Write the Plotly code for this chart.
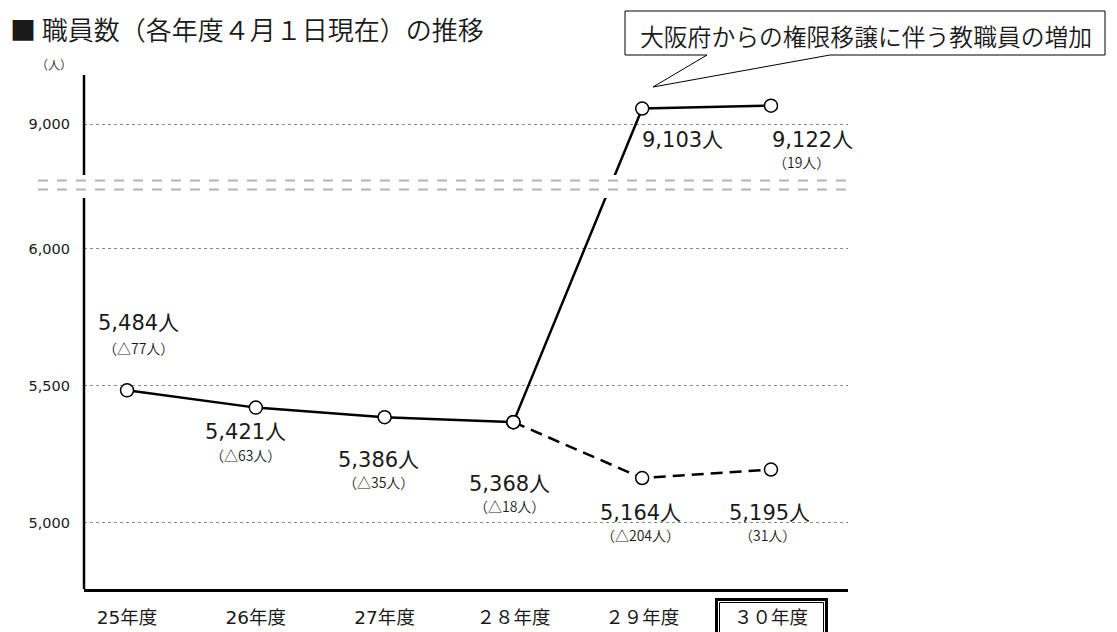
import plotly.graph_objects as go

# ---- data ----
years = ["25年度", "26年度", "27年度", "２８年度", "２９年度", "３０年度"]
staff_actual = [5484, 5421, 5386, 5368]          # 25-28年度
staff_with_transfer = [5368, 9103, 9122]          # 28-30年度 (incl. transfer)
staff_without_transfer = [5368, 5164, 5195]       # 28-30年度 (excl. transfer)
main_labels = ["5,484人", "5,421人", "5,386人", "5,368人", "5,164人", "5,195人"]
sub_labels = ["（△77人）", "（△63人）", "（△35人）", "（△18人）", "（△204人）", "（31人）"]
upper_main_labels = ["9,103人", "9,122人"]
upper_sub_labels = ["", "（19人）"]
tick_values = [5000, 5500, 6000, 9000]
tick_text = ["5,000", "5,500", "6,000", "9,000"]
title_text = "■ 職員数（各年度４月１日現在）の推移"
unit_text = "（人）"
callout_text = "大阪府からの権限移譲に伴う教職員の増加"

# ---- broken-axis scale (values above the break are compressed) ----
BREAK_LOW, BREAK_HIGH = 6186, 6270
def disp(v):
    return v if v <= 6000 else 6456 + (v - 9000) * 0.55

# ideographic spaces keep full-width brackets from being trimmed at line edges
IS = "\u3000"
def pad(s):
    return IS + s + IS

OFF = 8  # page body margin
W, H = 1117 - OFF, 632 - OFF
L, R, T, B = 84, 848, 75, 589   # plot area in screen pixels
def px(x):
    return (x - L) / (R - L)
def py(y):
    return (B - y) / (B - T)

FONT = "DejaVu Sans, Noto Sans CJK JP"
CJK = "Noto Sans CJK JP"
TXT = "#1a1a1a"

fig = go.Figure()
marker = dict(size=13, color="white", line=dict(color="black", width=1.5))

fig.add_trace(go.Scatter(x=years[3:], y=[disp(v) for v in staff_without_transfer],
                         mode="lines+markers", line=dict(color="black", width=2.5, dash="12px,7px"),
                         marker=marker, hoverinfo="skip", showlegend=False))
fig.add_trace(go.Scatter(x=years[:4], y=staff_actual, mode="lines+markers",
                         line=dict(color="black", width=2.5), marker=marker,
                         hoverinfo="skip", showlegend=False))
fig.add_trace(go.Scatter(x=years[3:], y=[disp(v) for v in staff_with_transfer],
                         mode="lines+markers", line=dict(color="black", width=2.5),
                         marker=marker, hoverinfo="skip", showlegend=False))

lower_values = staff_actual + staff_without_transfer[1:]
main_shift = [(11, 67), (-10, -24), (-6, -43), (-4, -62), (-2, -35), (-1, -43)]
sub_shift = [(11, 42), (-10, -47), (-6, -65), (-4, -84), (-2, -57), (-3, -65)]
ann = []
for i, v in enumerate(lower_values):
    ann.append(dict(x=years[i], y=disp(v), text=main_labels[i], showarrow=False,
                    xshift=main_shift[i][0], yshift=main_shift[i][1],
                    font=dict(family=FONT, size=21, color=TXT)))
    ann.append(dict(x=years[i], y=disp(v), text=pad(sub_labels[i]), showarrow=False,
                    xshift=sub_shift[i][0], yshift=sub_shift[i][1],
                    font=dict(family=CJK, size=14, color=TXT, weight=350)))
up_main_shift = [(40, -31), (42, -34)]
up_sub_shift = [(31, -56), (31, -56)]
for j, v in enumerate(staff_with_transfer[1:]):
    ann.append(dict(x=years[4 + j], y=disp(v), text=upper_main_labels[j], showarrow=False,
                    xshift=up_main_shift[j][0], yshift=up_main_shift[j][1],
                    font=dict(family=FONT, size=21, color=TXT)))
    if upper_sub_labels[j]:
        ann.append(dict(x=years[4 + j], y=disp(v), text=pad(upper_sub_labels[j]), showarrow=False,
                        xshift=up_sub_shift[j][0], yshift=up_sub_shift[j][1],
                        font=dict(family=CJK, size=14, color=TXT, weight=350)))

ann.append(dict(xref="paper", yref="paper", x=px(9), y=py(28), xanchor="left", yanchor="middle",
                text=title_text, showarrow=False, borderpad=0,
                font=dict(family=CJK, size=26, color=TXT, weight=350)))
ann.append(dict(xref="paper", yref="paper", x=px(54), y=py(64), xanchor="center", yanchor="middle",
                text=pad(unit_text), showarrow=False,
                font=dict(family=CJK, size=12, color=TXT, weight=350)))
ann.append(dict(xref="paper", yref="paper", x=px(866), y=py(35), xanchor="center", yanchor="middle",
                text=callout_text, showarrow=False,
                font=dict(family=CJK, size=23.8, color=TXT, weight=350)))

def path(points):
    return "M " + " L ".join(f"{px(a):.5f},{py(b):.5f}" for a, b in points) + " Z"

shapes = [
    # white band hiding the break
    dict(type="rect", xref="paper", yref="y", x0=px(30), x1=1.0, y0=BREAK_LOW, y1=BREAK_HIGH,
         fillcolor="white", line=dict(width=0), layer="above"),
    # break marks
    dict(type="line", xref="paper", yref="paper", x0=px(38), x1=px(846), y0=py(180.5), y1=py(180.5),
         line=dict(color="#b4b4b4", width=2, dash="10px,9px"), layer="above"),
    dict(type="line", xref="paper", yref="paper", x0=px(38), x1=px(846), y0=py(189.5), y1=py(189.5),
         line=dict(color="#b4b4b4", width=2, dash="10px,9px"), layer="above"),
    # vertical axis (broken)
    dict(type="line", xref="paper", yref="y", x0=0, x1=0, y0=4759, y1=BREAK_LOW,
         line=dict(color="black", width=2.5), layer="above"),
    dict(type="line", xref="paper", yref="y", x0=0, x1=0, y0=BREAK_HIGH, y1=6640,
         line=dict(color="black", width=2.5), layer="above"),
    # callout
    dict(type="path", xref="paper", yref="paper",
         path=path([(625, 11), (1105, 11), (1105, 55), (830, 55), (653, 87), (707, 55), (625, 55)]),
         fillcolor="white", line=dict(color="black", width=1), layer="above"),
    # double box around 30年度
    dict(type="rect", xref="paper", yref="paper", x0=px(716.5), x1=px(826.5), y0=py(599.5), y1=py(660),
         line=dict(color="black", width=3), fillcolor="rgba(0,0,0,0)", layer="above"),
    dict(type="rect", xref="paper", yref="paper", x0=px(719.5), x1=px(823.5), y0=py(602.5), y1=py(660),
         line=dict(color="black", width=1), fillcolor="rgba(0,0,0,0)", layer="above"),
]

fig.update_layout(
    width=W, height=H, margin=dict(l=L - OFF, r=W - (R - OFF), t=T - OFF, b=H - (B - OFF),
                                   autoexpand=False),
    paper_bgcolor="white", plot_bgcolor="white",
    annotations=ann, shapes=shapes,
    xaxis=dict(type="category", categoryorder="array", categoryarray=years,
               range=[-0.334, 5.598], showgrid=False, showline=True, linecolor="black",
               linewidth=2.5, ticks="", ticklabelstandoff=10, zeroline=False, automargin=False,
               tickfont=dict(family=FONT, size=18.5, color=TXT)),
    yaxis=dict(range=[4759, 6635], tickvals=[disp(v) for v in tick_values], ticktext=tick_text,
               showgrid=True, gridcolor="#8a8a8a", griddash="dot", gridwidth=1,
               showline=False, zeroline=False, ticks="", ticklabelstandoff=13, automargin=False,
               tickfont=dict(family=FONT, size=14.5, color=TXT)),
)

fig.write_html("out.html")
